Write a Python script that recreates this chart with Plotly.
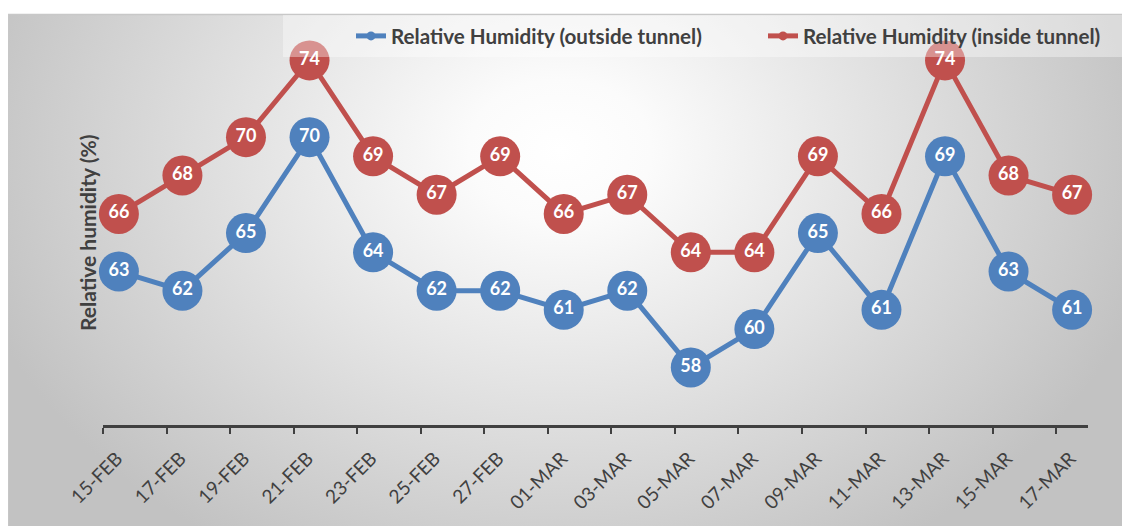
import base64
import pandas as pd
import plotly.graph_objects as go

# ---- data ----
dates = ["2023-02-15", "2023-02-17", "2023-02-19", "2023-02-21", "2023-02-23",
         "2023-02-25", "2023-02-27", "2023-03-01", "2023-03-03", "2023-03-05",
         "2023-03-07", "2023-03-09", "2023-03-11", "2023-03-13", "2023-03-15",
         "2023-03-17"]
tick_labels = ["15-FEB", "17-FEB", "19-FEB", "21-FEB", "23-FEB", "25-FEB", "27-FEB",
               "01-MAR", "03-MAR", "05-MAR", "07-MAR", "09-MAR", "11-MAR", "13-MAR",
               "15-MAR", "17-MAR"]
rh_outside = [63, 62, 65, 70, 64, 62, 62, 61, 62, 58, 60, 65, 61, 69, 63, 61]
rh_inside = [66, 68, 70, 74, 69, 67, 69, 66, 67, 64, 64, 69, 66, 74, 68, 67]
name_outside = "Relative Humidity (outside tunnel)"
name_inside = "Relative Humidity (inside tunnel)"
y_title = "Relative humidity (%)"

BLUE = "#4F81BD"
RED = "#C0504D"
DARK = "#404040"
FONT = "Lato"
W, H = 1130, 526
OFF = 8  # page body margin

day_start = pd.to_datetime(dates)
x_mid = day_start + pd.Timedelta(hours=12)  # Excel date axis: points centred in each day

# ---- background (radial grey gradient like the Excel chart area) ----
svg = f'''<svg xmlns="http://www.w3.org/2000/svg" width="{W}" height="{H}" viewBox="0 0 {W} {H}">
<defs><radialGradient id="g" gradientUnits="userSpaceOnUse" cx="0" cy="0" r="1"
 gradientTransform="translate(552 142) scale(610 470)">
<stop offset="0" stop-color="#ffffff"/><stop offset="0.15" stop-color="#fbfbfb"/>
<stop offset="1" stop-color="#c2c2c2"/></radialGradient></defs>
<rect x="0" y="0" width="{W}" height="{H}" fill="#ffffff"/>
<rect x="0" y="6.5" width="{W + 10}" height="{H}" fill="url(#g)" stroke="#c8c8c8" stroke-width="1.5"/>
</svg>'''
bg_src = "data:image/svg+xml;base64," + base64.b64encode(svg.encode()).decode()

fig = go.Figure()

for vals, name, col in [(rh_outside, name_outside, BLUE), (rh_inside, name_inside, RED)]:
    fig.add_trace(go.Scatter(
        x=x_mid, y=vals, mode="lines+markers+text", name=name, showlegend=False,
        line=dict(color=col, width=5),
        marker=dict(color=col, size=40, line=dict(width=0)),
        text=[str(v) for v in vals], textposition="middle center",
        textfont=dict(family=FONT, size=18, color="white", weight="bold"),
        cliponaxis=False, hoverinfo="x+y",
    ))

# legend-only entries with small markers like Excel's legend keys
for name, col, lg in [(name_outside, BLUE, "legend"), (name_inside, RED, "legend2")]:
    fig.add_trace(go.Scatter(
        x=[None], y=[None], mode="lines+markers", name=name, legend=lg,
        line=dict(color=col, width=5), marker=dict(color=col, size=9),
    ))

# page-pixel -> paper fraction (margins are zero, so paper == whole figure)
px_x = lambda p: (p - OFF) / W
px_y = lambda p: 1 - (p - OFF) / H

legend_common = dict(
    orientation="h", xanchor="left", y=px_y(36), yanchor="middle",
    bgcolor="rgba(0,0,0,0)",
    font=dict(family=FONT, size=20.6, color=DARK, weight="bold"),
    itemclick=False, itemdoubleclick=False,
)

fig.update_layout(
    width=W, height=H,
    margin=dict(l=0, r=0, t=0, b=0, autoexpand=False),
    paper_bgcolor="white",
    plot_bgcolor="rgba(0,0,0,0)",
    font=dict(family=FONT, color=DARK),
    images=[dict(source=bg_src, xref="paper", yref="paper", x=0, y=1, sizex=1, sizey=1,
                 xanchor="left", yanchor="top", sizing="stretch", layer="below")],
    xaxis=dict(
        type="date", domain=[px_x(103), px_x(1088)],
        range=["2023-02-15", "2023-03-18"], automargin=False,
        tickvals=list(day_start), ticktext=tick_labels, tickangle=-45,
        ticks="outside", ticklen=6, tickwidth=2, tickcolor=DARK,
        ticklabelshift=14, ticklabelstandoff=6,
        showline=True, linewidth=3, linecolor=DARK, showgrid=False, zeroline=False,
        tickfont=dict(family=FONT, size=19, color=DARK),
    ),
    yaxis=dict(
        domain=[px_y(425), px_y(22)], range=[55, 76], automargin=False,
        showticklabels=False, ticks="", showgrid=False, zeroline=False, showline=False,
    ),
    showlegend=True,
    legend=dict(x=px_x(351), **legend_common),
    legend2=dict(x=px_x(763), **legend_common),
    shapes=[dict(type="rect", xref="paper", yref="paper",
                 x0=px_x(283), x1=1.01, y0=px_y(57), y1=px_y(15),
                 fillcolor="rgba(255,255,255,0.38)", line=dict(width=0), layer="above")],
    annotations=[dict(text=y_title, xref="paper", yref="paper", x=px_x(88), y=px_y(233),
                      textangle=-90, showarrow=False, xanchor="center", yanchor="middle",
                      font=dict(family=FONT, size=21, color=DARK, weight="bold"))],
)

fig.write_html("out.html")
